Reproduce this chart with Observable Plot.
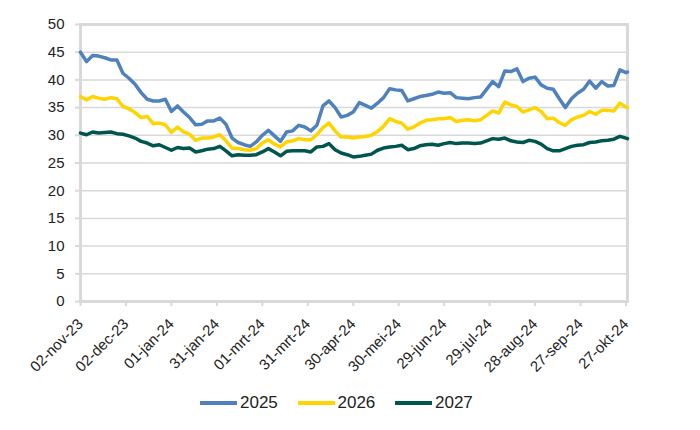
<!DOCTYPE html>
<html><head><meta charset="utf-8">
<script src="https://cdn.jsdelivr.net/npm/d3@7"></script>
<script src="https://cdn.jsdelivr.net/npm/@observablehq/plot@0.6"></script>
<style>
body{margin:0;background:#fff;font-family:"Liberation Sans",Arial,sans-serif;}
#wrap{position:relative;width:700px;height:430px;overflow:hidden;}
#legend{position:absolute;left:200px;top:393px;display:flex;align-items:center;font-size:17px;color:#222;line-height:20px;}
.item{display:flex;align-items:center;width:97.5px}
.sw{width:37px;height:4px;margin-right:3px}
</style></head><body><div id="wrap"><div id="chart"></div><div id="legend"></div></div>
<script>
const dates = ["2023-11-02","2023-11-06","2023-11-10","2023-11-14","2023-11-18","2023-11-22","2023-11-26","2023-11-30",
"2023-12-04","2023-12-08","2023-12-12","2023-12-16","2023-12-20","2023-12-24","2023-12-28",
"2024-01-01","2024-01-05","2024-01-09","2024-01-13","2024-01-17","2024-01-21","2024-01-25","2024-01-29",
"2024-02-02","2024-02-06","2024-02-10","2024-02-14","2024-02-18","2024-02-22","2024-02-26",
"2024-03-01","2024-03-05","2024-03-09","2024-03-13","2024-03-17","2024-03-21","2024-03-25","2024-03-29",
"2024-04-02","2024-04-06","2024-04-10","2024-04-14","2024-04-18","2024-04-22","2024-04-26","2024-04-30",
"2024-05-04","2024-05-08","2024-05-12","2024-05-16","2024-05-20","2024-05-24","2024-05-28",
"2024-06-01","2024-06-05","2024-06-09","2024-06-13","2024-06-17","2024-06-21","2024-06-25","2024-06-29",
"2024-07-03","2024-07-07","2024-07-11","2024-07-15","2024-07-19","2024-07-23","2024-07-27","2024-07-31",
"2024-08-04","2024-08-08","2024-08-12","2024-08-16","2024-08-20","2024-08-24","2024-08-28",
"2024-09-01","2024-09-05","2024-09-09","2024-09-13","2024-09-17","2024-09-21","2024-09-25","2024-09-29",
"2024-10-03","2024-10-07","2024-10-11","2024-10-15","2024-10-19","2024-10-23","2024-10-27","2024-10-28"];

const s2025 = [45,43.3,44.4,44.3,44.0,43.6,43.6,41.2,40.3,39.2,37.7,36.5,36.2,36.2,36.5,
34.3,35.3,34.2,33.2,31.9,32,32.6,32.6,33.1,32,29.5,28.7,28.3,28,28.8,
30,30.9,29.9,28.9,30.6,30.8,31.8,31.5,30.8,31.8,35.3,36.2,35,33.3,33.6,34.2,
35.9,35.4,34.9,35.8,36.8,38.4,38.2,38.1,36.2,36.6,37,37.2,37.4,37.8,37.6,
37.7,36.8,36.7,36.6,36.8,36.9,38.3,39.7,38.8,41.6,41.5,42,39.7,40.3,40.5,
39.1,38.5,38.3,36.6,35,36.6,37.6,38.3,39.8,38.5,39.7,38.9,39,41.8,41.3,41.4];

const s2026 = [37,36.4,37,36.7,36.5,36.8,36.6,35.2,34.8,34.1,33.2,33.4,32.1,32.2,31.9,
30.5,31.5,30.6,30.2,29.1,29.5,29.5,29.7,30.1,29,27.7,27.6,27.4,27.3,27.6,
28.6,29.2,28.4,27.9,28.8,29,29.4,29.2,29.2,30.1,31.4,32.2,30.8,29.7,29.7,29.5,
29.7,29.8,30,30.7,31.6,33,32.5,32.2,31.1,31.5,32.2,32.7,32.8,33,33,
33.2,32.5,32.7,32.8,32.6,32.8,33.6,34.4,34,36,35.5,35.2,34.2,34.6,35,
34.3,33,33.1,32.3,31.8,32.8,33.3,33.6,34.3,33.8,34.5,34.5,34.4,35.8,35.1,35];

const s2027 = [30.4,30.1,30.6,30.4,30.5,30.6,30.3,30.2,29.9,29.5,28.9,28.6,28.1,28.3,27.8,
27.3,27.8,27.6,27.7,27,27.2,27.5,27.6,28,27.2,26.3,26.5,26.4,26.4,26.5,
27,27.6,27,26.3,27.1,27.2,27.2,27.2,27,27.9,28,28.5,27.4,26.8,26.5,26.1,
26.2,26.4,26.6,27.3,27.7,27.9,28,28.2,27.4,27.6,28.1,28.3,28.4,28.2,28.5,
28.7,28.5,28.6,28.6,28.5,28.6,29,29.4,29.3,29.5,29,28.8,28.7,29.1,28.9,
28.4,27.6,27.2,27.2,27.6,28,28.2,28.3,28.7,28.8,29,29.1,29.3,29.8,29.5,29.4];

const seriesNames = ["2025","2026","2027"];
const seriesColors = ["#4f81bd","#ffd400","#00564f"];
const yTicks = [0,5,10,15,20,25,30,35,40,45,50];
const tickDates = ["2023-11-02","2023-12-02","2024-01-01","2024-01-31","2024-03-01","2024-03-31","2024-04-30","2024-05-30","2024-06-29","2024-07-29","2024-08-28","2024-09-27","2024-10-27"];
const tickLabels = ["02-nov-23","02-dec-23","01-jan-24","31-jan-24","01-mrt-24","31-mrt-24","30-apr-24","30-mei-24","29-jun-24","29-jul-24","28-aug-24","27-sep-24","27-okt-24"];

const parse = d3.utcParse("%Y-%m-%d");
const allSeries = [s2025, s2026, s2027];
const data = [];
allSeries.forEach((vals, si) => vals.forEach((v, i) => data.push({date: parse(dates[i]), value: v, series: seriesNames[si]})));
const tickDateObjs = tickDates.map(parse);
const labelMap = new Map(tickDateObjs.map((d, i) => [+d, tickLabels[i]]));

const chart = Plot.plot({
  width: 700, height: 388,
  marginLeft: 80, marginRight: 73, marginTop: 24, marginBottom: 87,
  style: {fontFamily: "'Liberation Sans', Arial, sans-serif", fontSize: "15px", color: "#222", background: "#fff"},
  x: {type: "utc", domain: [parse("2023-11-02"), parse("2024-10-28")]},
  y: {domain: [0, 50]},
  color: {domain: seriesNames, range: seriesColors},
  marks: [
    Plot.gridY(yTicks, {stroke: "#d9d9d9", strokeOpacity: 1, strokeWidth: 1.5}),
    Plot.frame({stroke: "#d9d9d9", strokeWidth: 3}),
    Plot.axisY(yTicks, {tickSize: 5, stroke: "#d9d9d9", strokeWidth: 2, tickPadding: 11, fontSize: 15, label: null, fill: "#222"}),
    Plot.axisX(tickDateObjs, {tickSize: 5, stroke: "#d9d9d9", strokeWidth: 2, tickRotate: -45, tickPadding: 15, fontSize: 15, label: null, fill: "#222",
      tickFormat: d => labelMap.get(+d)}),
    Plot.line(data, {x: "date", y: "value", z: "series", stroke: "series", strokeWidth: 3.5, strokeLinejoin: "round", curve: "linear"})
  ]
});
document.getElementById("chart").appendChild(chart);

const legend = document.getElementById("legend");
seriesNames.forEach((n, i) => {
  const it = document.createElement("div"); it.className = "item";
  const sw = document.createElement("div"); sw.className = "sw"; sw.style.background = seriesColors[i];
  const tx = document.createElement("span"); tx.textContent = n;
  it.appendChild(sw); it.appendChild(tx); legend.appendChild(it);
});
</script></body></html>
